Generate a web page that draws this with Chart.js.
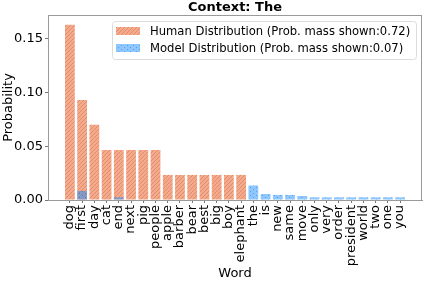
<!DOCTYPE html>
<html>
<head>
<meta charset="utf-8">
<script src="https://cdn.jsdelivr.net/npm/chart.js@4/dist/chart.umd.min.js"></script>
<style>
  html, body { margin: 0; padding: 0; background: #fff; }
  #chart { display: block; }
</style>
</head>
<body>
<canvas id="chart" width="425" height="283"></canvas>
<script>
var words = ['dog','first','day','cat','end','next','pig','people','apple','barber','bear','best','big','boy','elephant',
    'the','is','new','same','move','only','very','order','president','world','two','one','you'];
var humanProb = [0.163,0.093,0.070,0.0465,0.0465,0.0465,0.0465,0.0465,0.0233,0.0233,0.0233,0.0233,0.0233,0.0233,0.0233,
    0,0,0,0,0,0,0,0,0,0,0,0,0];
var modelProb = [0,0.0084,0,0,0.0025,0,0,0,0,0,0,0,0,0,0,
    0.0135,0.0056,0.0047,0.0047,0.0037,0.0025,0.0025,0.0025,0.0025,0.0025,0.0025,0.0025,0.0025];
var legendLabels = ['Human Distribution (Prob. mass shown:0.72)', 'Model Distribution (Prob. mass shown:0.07)'];
var yTicks = [0, 0.05, 0.10, 0.15];
var chartTitle = 'Context: The';

(function(){
    'use strict';
    var FONT = '"DejaVu Sans", sans-serif';
    var ctx = document.getElementById('chart').getContext('2d');

    function hatchPattern(){
        var c = document.createElement('canvas');
        c.width = 4; c.height = 4;
        var x = c.getContext('2d');
        x.fillStyle = '#f3aa8d';
        x.fillRect(0, 0, 4, 4);
        x.strokeStyle = '#e48b69';
        x.lineWidth = 1;
        x.beginPath();
        x.moveTo(-1, 5); x.lineTo(5, -1);
        x.moveTo(-1, 1); x.lineTo(1, -1);
        x.moveTo(3, 5); x.lineTo(5, 3);
        x.stroke();
        return ctx.createPattern(c, 'repeat');
    }

    function dotPattern(){
        var c = document.createElement('canvas');
        c.width = 6; c.height = 4;
        var x = c.getContext('2d');
        x.fillStyle = 'rgba(30,144,255,0.5)';
        x.fillRect(0, 0, 6, 4);
        x.fillStyle = 'rgba(10,80,170,0.35)';
        x.fillRect(1, 1, 1, 1);
        x.fillRect(4, 3, 1, 1);
        return ctx.createPattern(c, 'repeat');
    }

    var humanFill = hatchPattern();
    var modelFill = dotPattern();

    var framePlugin = {
        id: 'frameAndLegend',
        afterDatasetsDraw: function(chart){
            var c = chart.ctx;
            var a = chart.chartArea;
            c.save();
            c.strokeStyle = '#9a9a9a';
            c.lineWidth = 1;
            c.strokeRect(a.left + 0.5, a.top + 0.5, a.right - a.left - 1, a.bottom - a.top);

            // title
            c.fillStyle = '#000';
            c.font = 'bold 13px ' + FONT;
            c.textAlign = 'center';
            c.textBaseline = 'middle';
            c.fillText(chartTitle, (a.left + a.right) / 2, 8);

            // legend
            var lx = 112, ly = 21, lw = 304, lh = 38;
            c.beginPath();
            c.roundRect(lx + 0.5, ly + 0.5, lw, lh, 3);
            c.fillStyle = 'rgba(255,255,255,0.85)';
            c.fill();
            c.strokeStyle = '#dcdcdc';
            c.stroke();
            var fills = [humanFill, modelFill];
            var rows = [31, 48];
            c.font = '11.6px ' + FONT;
            c.textAlign = 'left';
            for (var i = 0; i < legendLabels.length; i++) {
                c.fillStyle = fills[i];
                c.fillRect(116, rows[i] - 4, 24, 8);
                c.fillStyle = '#000';
                c.fillText(legendLabels[i], 150, rows[i] + 0.5);
            }
            c.restore();
        }
    };

    var chart = new Chart(ctx, {
        type: 'bar',
        data: {
            datasets: [{
                label: legendLabels[0],
                data: humanProb.map(function(v, i){ return {x: i, y: v}; }),
                backgroundColor: humanFill,
                borderWidth: 0,
                grouped: false,
                order: 2
            }, {
                label: legendLabels[1],
                data: modelProb.map(function(v, i){ return {x: i, y: v}; }),
                backgroundColor: modelFill,
                borderWidth: 0,
                grouped: false,
                order: 1
            }]
        },
        options: {
            responsive: false,
            animation: false,
            devicePixelRatio: 1,
            layout: { padding: { top: 15, right: 3, left: 0, bottom: 0 } },
            datasets: { bar: { categoryPercentage: 1, barPercentage: 0.8 } },
            plugins: {
                legend: { display: false },
                title: { display: false },
                tooltip: { enabled: false }
            },
            scales: {
                x: {
                    type: 'linear',
                    offset: false,
                    min: -1.79,
                    max: words.length - 1 + 1.79,
                    afterBuildTicks: function(s){
                        s.ticks = words.map(function(w, i){ return {value: i}; });
                    },
                    afterFit: function(s){
                        s.height = 83;
                        s.paddingLeft = 0;
                        s.paddingRight = 0;
                    },
                    ticks: {
                        autoSkip: false,
                        minRotation: 90,
                        maxRotation: 90,
                        padding: 2,
                        color: '#000',
                        font: { family: FONT, size: 13 },
                        callback: function(v){ return words[v]; }
                    },
                    grid: { offset: false, drawOnChartArea: false, tickLength: 3, color: '#777' },
                    border: { color: '#9a9a9a' },
                    title: {
                        display: true,
                        text: 'Word',
                        color: '#000',
                        font: { family: FONT, size: 13 },
                        padding: { top: 0, bottom: 2 }
                    }
                },
                y: {
                    min: 0,
                    max: 0.172,
                    afterBuildTicks: function(s){
                        s.ticks = yTicks.map(function(v){ return {value: v}; });
                    },
                    afterFit: function(s){
                        s.width = 48;
                        s.paddingTop = 0;
                        s.paddingBottom = 0;
                    },
                    ticks: {
                        padding: 2,
                        color: '#000',
                        font: { family: FONT, size: 13 },
                        callback: function(v){ return v.toFixed(2); }
                    },
                    grid: { drawOnChartArea: false, tickLength: 3, color: '#777' },
                    border: { color: '#9a9a9a' },
                    title: {
                        display: true,
                        text: 'Probability',
                        color: '#000',
                        font: { family: FONT, size: 13 },
                        padding: { top: 1, bottom: 0 }
                    }
                }
            }
        },
        plugins: [framePlugin]
    });
    console.log(chart.chartArea);
})();
</script>
</body>
</html>
